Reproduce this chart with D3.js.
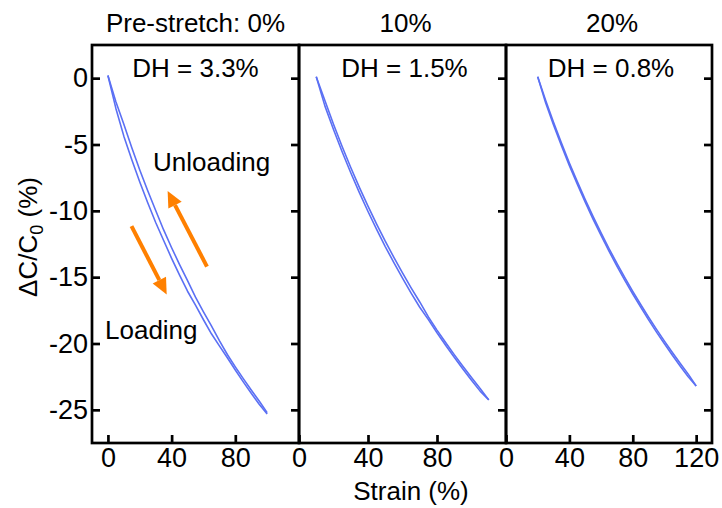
<!DOCTYPE html>
<html>
<head>
<meta charset="utf-8">
<script src="https://cdn.jsdelivr.net/npm/d3@7"></script>
<style>
  body { margin: 0; background: #fff; }
  text { font-family: "Liberation Sans", Arial, Helvetica, sans-serif; fill: #000; }
</style>
</head>
<body>
<svg id="chart" width="722" height="508"></svg>
<script>
// ---- data ----
const panelTitles = ["Pre-stretch: 0%", "10%", "20%"];
const dhLabels = ["DH = 3.3%", "DH = 1.5%", "DH = 0.8%"];
const yTicks = [0, -5, -10, -15, -20, -25];
const xDomains = [[-10, 120], [0, 120], [0, 130]];
const xTickValues = [[0, 40, 80], [0, 40, 80], [0, 40, 80, 120]];

// pre-stretch 0%
const strain0 = [0, 5, 10, 15, 20, 25, 30, 35, 40, 45, 50, 55, 60, 65, 70, 75, 80, 85, 90, 95, 100];
const loading0 = [0.2, -2.28, -4.37, -6.15, -7.82, -9.39, -10.88, -12.24, -13.58, -14.85, -16.06, -17.11, -18.21, -19.27, -20.18, -21.07, -22.0, -22.89, -23.75, -24.58, -25.31];
const unloading0 = [0.2, -1.78, -3.47, -5.25, -6.92, -8.49, -9.98, -11.44, -12.78, -14.05, -15.26, -16.51, -17.61, -18.67, -19.78, -20.83, -21.76, -22.65, -23.51, -24.34, -25.21];

// pre-stretch 10%
const strain10 = [10, 15, 20, 25, 30, 35, 40, 45, 50, 55, 60, 65, 70, 75, 80, 85, 90, 95, 100, 105, 110];
const loading10 = [0.1, -2.09, -3.87, -5.55, -7.13, -8.63, -10.05, -11.4, -12.69, -13.91, -15.08, -16.2, -17.27, -18.2, -19.19, -20.13, -21.04, -21.92, -22.77, -23.59, -24.25];
const unloading10 = [0.1, -1.69, -3.47, -5.15, -6.73, -8.23, -9.65, -11.0, -12.29, -13.51, -14.68, -15.8, -16.87, -18.0, -18.99, -19.93, -20.84, -21.72, -22.57, -23.39, -24.25];

// pre-stretch 20%
const strain20 = [20, 25, 30, 35, 40, 45, 50, 55, 60, 65, 70, 75, 80, 85, 90, 95, 100, 105, 110, 115, 120];
const loading20 = [0.1, -1.86, -3.52, -5.09, -6.59, -8.0, -9.35, -10.64, -11.86, -13.04, -14.16, -15.24, -16.27, -17.26, -18.22, -19.14, -20.02, -20.88, -21.71, -22.51, -23.2];
const unloading20 = [0.1, -1.66, -3.32, -4.89, -6.39, -7.8, -9.15, -10.44, -11.66, -12.84, -13.96, -15.04, -16.07, -17.06, -18.02, -18.94, -19.82, -20.68, -21.51, -22.31, -23.2];

// direction arrows in the first panel, [strain, dC/C0] from tail to head
const loadingArrow = [[14.8, -11.15], [36.9, -16.3]];
const unloadingArrow = [[62.2, -14.2], [37.5, -8.5]];

const panels = [
  { strain: strain0, loading: loading0, unloading: unloading0 },
  { strain: strain10, loading: loading10, unloading: unloading10 },
  { strain: strain20, loading: loading20, unloading: unloading20 }
];

// ---- layout ----
const svg = d3.select("#chart");
const plotTop = 45, plotBottom = 443;
const lefts = [92, 299, 506], rights = [299, 506, 712];
const lineColor = "#5b70f4";
const orange = "#ff8000";
const axisW = 2.7;
const fontStack = '"Liberation Sans", Arial, sans-serif';

const y = d3.scaleLinear().domain([-27.5, 2.5]).range([plotBottom, plotTop]);

panels.forEach((p, i) => {
  const x = d3.scaleLinear().domain(xDomains[i]).range([lefts[i], rights[i]]);
  const g = svg.append("g");

  const line = d3.line().x(d => x(d[0])).y(d => y(d[1]));
  [p.loading, p.unloading].forEach(series => {
    g.append("path")
      .datum(p.strain.map((s, k) => [s, series[k]]))
      .attr("d", line)
      .attr("fill", "none")
      .attr("stroke", lineColor)
      .attr("stroke-width", 1.6)
      .attr("stroke-linejoin", "round");
  });

  // bottom axis, ticks pointing inward
  const xAxis = g.append("g")
    .attr("transform", `translate(0,${plotBottom})`)
    .call(d3.axisBottom(x).tickValues(xTickValues[i]).tickSize(-8).tickSizeOuter(0).tickPadding(5).tickFormat(d3.format("d")));
  xAxis.select(".domain").remove();
  xAxis.selectAll(".tick line").attr("stroke-width", axisW);
  xAxis.selectAll(".tick text").attr("font-size", 27).style("font-family", fontStack);

  // right axis on each panel
  const rAxis = g.append("g")
    .attr("transform", `translate(${rights[i]},0)`)
    .call(d3.axisRight(y).tickValues(yTicks).tickSize(-8).tickSizeOuter(0).tickFormat(""));
  rAxis.select(".domain").remove();
  rAxis.selectAll(".tick line").attr("stroke-width", axisW);

  if (i === 0) {
    const lAxis = g.append("g")
      .attr("transform", `translate(${lefts[i]},0)`)
      .call(d3.axisLeft(y).tickValues(yTicks).tickSize(-8).tickSizeOuter(0).tickPadding(4).tickFormat(d3.format("d")));
    lAxis.select(".domain").remove();
    lAxis.selectAll(".tick line").attr("stroke-width", axisW);
    lAxis.selectAll(".tick text").attr("font-size", 27).style("font-family", fontStack)
      .text(d => d < 0 ? "-" + Math.abs(d) : d);
  }

  // frame
  g.append("rect")
    .attr("x", lefts[i]).attr("y", plotTop)
    .attr("width", rights[i] - lefts[i]).attr("height", plotBottom - plotTop)
    .attr("fill", "none").attr("stroke", "#000").attr("stroke-width", axisW);

  const cx = (lefts[i] + rights[i]) / 2;
  g.append("text").attr("x", cx + (i ? 3 : 0)).attr("y", 32)
    .attr("text-anchor", "middle").attr("font-size", 26).text(panelTitles[i]);
  g.append("text").attr("x", cx + (i ? 2 : 0)).attr("y", 77)
    .attr("text-anchor", "middle").attr("font-size", 26).text(dhLabels[i]);

  if (i === 0) {
    const drawArrow = (pts) => {
      const [x0, y0] = [x(pts[0][0]), y(pts[0][1])];
      const [x1, y1] = [x(pts[1][0]), y(pts[1][1])];
      const ang = Math.atan2(y1 - y0, x1 - x0);
      const headLen = 16, headHalf = 7.5;
      const bx = x1 - headLen * Math.cos(ang), by = y1 - headLen * Math.sin(ang);
      g.append("line").attr("x1", x0).attr("y1", y0).attr("x2", bx).attr("y2", by)
        .attr("stroke", orange).attr("stroke-width", 4);
      const nx = -Math.sin(ang), ny = Math.cos(ang);
      g.append("path")
        .attr("d", `M${x1},${y1}L${bx + nx * headHalf},${by + ny * headHalf}L${bx - nx * headHalf},${by - ny * headHalf}Z`)
        .attr("fill", orange);
    };
    drawArrow(loadingArrow);
    drawArrow(unloadingArrow);

    g.append("text").attr("x", 153).attr("y", 171).attr("font-size", 26).text("Unloading");
    g.append("text").attr("x", 105).attr("y", 339).attr("font-size", 26).text("Loading");
  }
});

// axis titles
svg.append("text").attr("x", 411).attr("y", 500).attr("text-anchor", "middle")
  .attr("font-size", 26).text("Strain (%)");

const yt = svg.append("text")
  .attr("transform", "translate(37,237) rotate(-90)")
  .attr("text-anchor", "middle").attr("font-size", 26);
yt.append("tspan").text("ΔC/C");
yt.append("tspan").attr("font-size", 18).attr("dy", 6).text("0");
yt.append("tspan").attr("dy", -6).text(" (%)");
</script>
</body>
</html>
